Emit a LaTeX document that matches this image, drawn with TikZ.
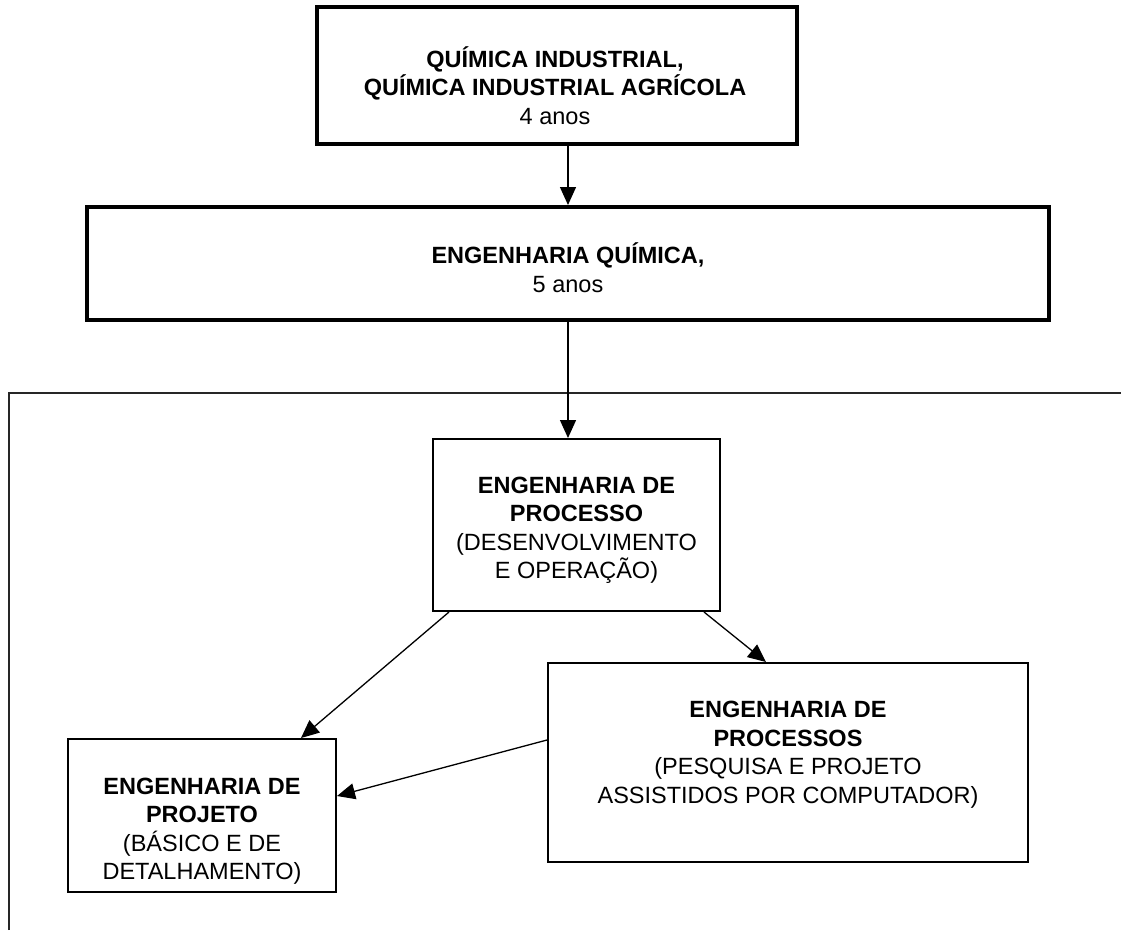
\documentclass[tikz,border=0pt]{standalone}
\usepackage{fontspec}
\setmainfont{Liberation Sans}
\usetikzlibrary{arrows.meta, calc, positioning}

\begin{document}
\begin{tikzpicture}[x=1pt, y=-1pt,
    bigbox/.style={draw, line width=4pt, inner sep=0pt},
    smallbox/.style={draw, line width=2pt, inner sep=0pt},
    txt/.style={align=center, inner sep=0pt, font=\fontsize{23.5}{28.5}\selectfont},
    link/.style={line width=1.3pt, -{Triangle[length=18pt, width=16pt]}}]
  \useasboundingbox (0,0) rectangle (1121,930);
  \draw[line width=2.2pt, black!85] (9,930) -- (9,393) -- (1121,393);

  \node[bigbox, minimum width=480pt, minimum height=137pt] (quimind) at (557,75.5) {};
  \node[bigbox, minimum width=962pt, minimum height=113pt, below=59pt of quimind.south, xshift=11pt] (engquim) {};
  \node[smallbox, minimum width=287pt, minimum height=172pt, below=116pt of engquim.south, xshift=8.5pt] (processo) {};
  \node[smallbox, minimum width=268pt, minimum height=153pt] (projeto) at (202,815.5) {};
  \node[smallbox, minimum width=480pt, minimum height=199pt] (processos) at (788,762.5) {};

  \node[txt, yshift=-9.7pt, xshift=-2pt] (quimind-t) at (quimind)
    {\textbf{QUÍMICA INDUSTRIAL,}\\\textbf{QUÍMICA INDUSTRIAL AGRÍCOLA}\\4 anos};
  \node[txt, yshift=-4.3pt] (engquim-t) at (engquim)
    {\textbf{ENGENHARIA QUÍMICA,}\\5 anos};
  \node[txt, yshift=-5.3pt] (processo-t) at (processo)
    {\textbf{ENGENHARIA DE}\\\textbf{PROCESSO}\\(DESENVOLVIMENTO\\E OPERAÇÃO)};
  \node[txt, yshift=-15.5pt] (projeto-t) at (projeto)
    {\textbf{ENGENHARIA DE}\\\textbf{PROJETO}\\(BÁSICO E DE\\DETALHAMENTO)};
  \node[txt, yshift=7.7pt] (processos-t) at (processos)
    {\textbf{ENGENHARIA DE}\\\textbf{PROCESSOS}\\(PESQUISA E PROJETO\\ASSISTIDOS POR COMPUTADOR)};

  \draw[link] (engquim.north |- quimind.south) -- (engquim.north);
  \draw[link] (engquim.south) -- (engquim.south |- processo.north);
  \draw[link] ($(processo.south west)+(17,0)$) -- ($(projeto.north east)+(-36,0)$);
  \draw[link] ($(processo.south east)+(-17,0)$) -- ($(processos.north west)+(219,0)$);
  \draw[link] ($(processos.west)+(0,-22.5)$) -- ($(projeto.east)+(0,-19.5)$);
\end{tikzpicture}
\end{document}
